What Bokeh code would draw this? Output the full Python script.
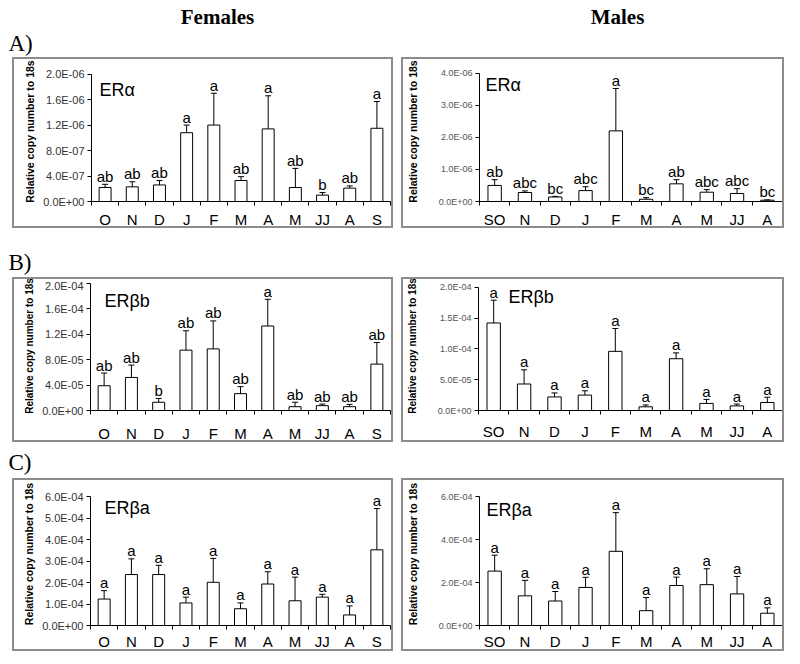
from bokeh.plotting import figure
from bokeh.models import Range1d, FixedTicker, CustomJSTickFormatter, Label, Spacer
from bokeh.layouts import column, row
from bokeh.core.properties import value
from bokeh.embed import file_html
from bokeh.resources import INLINE

# ---------------- data ----------------
female_months = ["O", "N", "D", "J", "F", "M", "A", "M", "JJ", "A", "S"]
male_months = ["SO", "N", "D", "J", "F", "M", "A", "M", "JJ", "A"]

# ER alpha
fem_era_mean = [2.2e-7, 2.3e-7, 2.6e-7, 1.08e-6, 1.20e-6, 3.3e-7, 1.14e-6, 2.2e-7, 1.0e-7, 2.1e-7, 1.15e-6]
fem_era_err = [5e-8, 8e-8, 7e-8, 1.2e-7, 5.0e-7, 6e-8, 5.2e-7, 3.0e-7, 4e-8, 3.5e-8, 4.2e-7]
fem_era_letters = ["ab", "ab", "ab", "a", "a", "ab", "a", "ab", "b", "ab", "a"]
fem_era_ticks = [0, 4e-7, 8e-7, 1.2e-6, 1.6e-6, 2.0e-6]

male_era_mean = [5.0e-7, 2.8e-7, 1.4e-7, 3.4e-7, 2.20e-6, 7e-8, 5.5e-7, 2.9e-7, 2.5e-7, 4e-8]
male_era_err = [1.8e-7, 5e-8, 2e-8, 1.2e-7, 1.32e-6, 5e-8, 1.3e-7, 8e-8, 1.5e-7, 1e-8]
male_era_letters = ["ab", "abc", "bc", "abc", "a", "bc", "ab", "abc", "abc", "bc"]
male_era_ticks = [0, 1e-6, 2e-6, 3e-6, 4e-6]

# ER beta b
fem_erbb_mean = [3.9e-5, 5.2e-5, 1.3e-5, 9.5e-5, 9.7e-5, 2.65e-5, 1.33e-4, 6e-6, 7.6e-6, 6e-6, 7.3e-5]
fem_erbb_err = [2.0e-5, 1.95e-5, 6e-6, 3.05e-5, 4.4e-5, 1.1e-5, 4.2e-5, 7e-6, 2.5e-6, 3.6e-6, 3.4e-5]
fem_erbb_letters = ["ab", "ab", "b", "ab", "ab", "ab", "a", "ab", "ab", "ab", "ab"]
fem_erbb_ticks = [0, 4e-5, 8e-5, 1.2e-4, 1.6e-4, 2.0e-4]

male_erbb_mean = [1.42e-4, 4.3e-5, 2.2e-5, 2.5e-5, 9.6e-5, 6e-6, 8.4e-5, 1.15e-5, 7.5e-6, 1.3e-5]
male_erbb_err = [3.7e-5, 2.3e-5, 6.5e-6, 7e-6, 3.7e-5, 3e-6, 9.5e-6, 6.5e-6, 3e-6, 8.5e-6]
male_erbb_letters = ["a"] * 10
male_erbb_ticks = [0, 5e-5, 1e-4, 1.5e-4, 2e-4]

# ER beta a
fem_erba_mean = [1.23e-4, 2.37e-4, 2.37e-4, 1.05e-4, 2.01e-4, 7.8e-5, 1.93e-4, 1.15e-4, 1.32e-4, 4.9e-5, 3.52e-4]
fem_erba_err = [3.9e-5, 7.3e-5, 4.3e-5, 2.7e-5, 1.11e-4, 2.7e-5, 5.7e-5, 1.1e-4, 1.3e-5, 4.2e-5, 1.92e-4]
fem_erba_letters = ["a"] * 11
fem_erba_ticks = [0, 1e-4, 2e-4, 3e-4, 4e-4, 5e-4, 6e-4]

male_erba_mean = [2.53e-4, 1.38e-4, 1.14e-4, 1.77e-4, 3.45e-4, 6.9e-5, 1.86e-4, 1.90e-4, 1.47e-4, 5.7e-5]
male_erba_err = [7.4e-5, 7.2e-5, 4.4e-5, 4.7e-5, 1.8e-4, 6.1e-5, 3.9e-5, 7.4e-5, 8.1e-5, 2.5e-5]
male_erba_letters = ["a"] * 10
male_erba_ticks = [0, 2e-4, 4e-4, 6e-4]

y_title = "Relative copy number to 18s"
SANS = "Liberation Sans"
SERIF = "Liberation Serif"
BORDER = 2

FMT = CustomJSTickFormatter(code="""
    if (tick == 0) return "0.0E+00";
    const s = tick.toExponential(1);
    const parts = s.split("e");
    const e = parseInt(parts[1]);
    const sign = e < 0 ? "-" : "+";
    const d = String(Math.abs(e)).padStart(2, "0");
    return parts[0] + "E" + sign + d;
""")


def make_panel(cats, means, errs, letters, ticks, gene, box, frame_x, ytop_px, y0_px,
               gene_xy, tick_size, tick_color, title_size, title_standoff, xlab_standoff):
    # box / positions given in page pixels
    bx0, by0, bx1, by1 = box
    ix0, iy0 = bx0 + BORDER, by0 + BORDER          # inner origin
    W, H = bx1 - bx0 - 2 * BORDER, by1 - by0 - 2 * BORDER
    n = len(cats)
    top_border = 2
    left = frame_x[0] - ix0
    right = (ix0 + W) - frame_x[1]
    bottom_border = (iy0 + H) - y0_px
    ymax = ticks[-1]
    frame_top_page = iy0 + top_border
    y_end = ymax * (y0_px - frame_top_page) / (y0_px - ytop_px)
    p = figure(width=W, height=H, x_range=Range1d(0.5, n + 0.5), y_range=Range1d(0, y_end),
               output_backend="svg", toolbar_location=None,
               min_border_left=left, min_border_right=right,
               min_border_top=top_border, min_border_bottom=bottom_border,
               styles={"border": f"{BORDER}px solid #8c8c8c"})
    p.outline_line_color = None
    p.grid.visible = False
    p.background_fill_color = "white"

    xs = list(range(1, n + 1))
    tops = [m + e for m, e in zip(means, errs)]

    p.vbar(x=xs, top=means, bottom=0, width=0.44, fill_color="white",
           line_color="black", line_width=1)
    p.segment(x0=xs, y0=means, x1=xs, y1=tops, line_color="black", line_width=1)
    p.scatter(x=xs, y=tops, marker="dash", size=6, line_color="black", line_width=1)
    p.text(x=xs, y=tops, text=letters, text_align="center", text_baseline="alphabetic",
           y_offset=-8, text_font=value(SANS), text_font_size="15px", text_color="black")

    # x axis
    xa = p.xaxis[0]
    xa.ticker = FixedTicker(ticks=xs, minor_ticks=[k + 0.5 for k in range(n + 1)])
    xa.major_label_overrides = {i + 1: c for i, c in enumerate(cats)}
    xa.major_tick_out = 0
    xa.major_tick_in = 0
    xa.minor_tick_out = 4
    xa.minor_tick_in = 0
    xa.minor_tick_line_color = "black"
    xa.axis_line_color = "black"
    xa.major_label_text_font = SANS
    xa.major_label_text_font_size = "15px"
    xa.major_label_text_color = "black"
    xa.major_label_standoff = xlab_standoff

    # y axis
    ya = p.yaxis[0]
    ya.ticker = FixedTicker(ticks=ticks, minor_ticks=[])
    ya.formatter = FMT
    ya.bounds = (0, ymax)
    ya.major_tick_out = 4
    ya.major_tick_in = 0
    ya.minor_tick_out = 0
    ya.minor_tick_in = 0
    ya.axis_line_color = "black"
    ya.major_tick_line_color = "black"
    ya.major_label_text_font = SANS
    ya.major_label_text_font_size = tick_size
    ya.major_label_text_color = tick_color
    ya.major_label_standoff = 3
    ya.axis_label = y_title
    ya.axis_label_text_font = SANS
    ya.axis_label_text_font_size = title_size
    ya.axis_label_text_font_style = "bold"
    ya.axis_label_text_color = "black"
    ya.axis_label_standoff = title_standoff

    p.add_layout(Label(x=gene_xy[0] - ix0, y=gene_xy[1] - iy0, x_units="canvas", y_units="canvas",
                       text=gene, text_font=SANS, text_font_size="18px",
                       text_baseline="alphabetic", text_color="black"))
    return p


def text_fig(W, H, items):
    p = figure(width=W, height=H, x_range=Range1d(0, W), y_range=Range1d(H, 0),
               x_axis_type=None, y_axis_type=None, output_backend="svg",
               toolbar_location=None, min_border=0)
    p.outline_line_color = None
    for (x, y, txt, size, style, align) in items:
        p.text(x=[x], y=[y], text=[txt], text_align=align, text_baseline="middle",
               text_font=value(SERIF), text_font_size=size, text_font_style=style,
               text_color="black")
    return p


# page layout (pixels)
F_X = (12, 397)
M_X = (405, 792)
ROW_A = (57, 232)
ROW_B = (277, 446)
ROW_C = (478, 655)

fA = make_panel(female_months, fem_era_mean, fem_era_err, fem_era_letters, fem_era_ticks, "ERα",
                (F_X[0], ROW_A[0], F_X[1], ROW_A[1]), (91, 390), 74, 205, (97, 87),
                "11px", "#333333", "10.5px", 4, 5)
mA = make_panel(male_months, male_era_mean, male_era_err, male_era_letters, male_era_ticks, "ERα",
                (M_X[0], ROW_A[0], M_X[1], ROW_A[1]), (476, 786), 73, 206, (487, 82),
                "9px", "#555555", "10.5px", 17, 5)
fB = make_panel(female_months, fem_erbb_mean, fem_erbb_err, fem_erbb_letters, fem_erbb_ticks, "ERβb",
                (F_X[0], ROW_B[0], F_X[1], ROW_B[1]), (90, 390), 283, 414, (102, 298),
                "11px", "#333333", "10px", 4, 10)
mB = make_panel(male_months, male_erbb_mean, male_erbb_err, male_erbb_letters, male_erbb_ticks, "ERβb",
                (M_X[0], ROW_B[0], M_X[1], ROW_B[1]), (476, 786), 287, 416, (510, 294),
                "9px", "#555555", "10px", 17, 8)
fC = make_panel(female_months, fem_erba_mean, fem_erba_err, fem_erba_letters, fem_erba_ticks, "ERβa",
                (F_X[0], ROW_C[0], F_X[1], ROW_C[1]), (90, 390), 496, 625, (102, 505),
                "11px", "#333333", "10.5px", 4, 3)
mC = make_panel(male_months, male_erba_mean, male_erba_err, male_erba_letters, male_erba_ticks, "ERβa",
                (M_X[0], ROW_C[0], M_X[1], ROW_C[1]), (476, 786), 496, 625, (488, 507),
                "9px", "#555555", "10.5px", 17, 3)

top = text_fig(800, ROW_A[0], [(217, 16, "Females", "21px", "bold", "center"),
                               (617, 16, "Males", "21px", "bold", "center"),
                               (8, 43, "A)", "23px", "normal", "left")])
midB = text_fig(800, ROW_B[0] - ROW_A[1], [(8, 262 - ROW_A[1], "B)", "23px", "normal", "left")])
midC = text_fig(800, ROW_C[0] - ROW_B[1], [(8, 462 - ROW_B[1], "C)", "23px", "normal", "left")])


def panel_row(f, m, H):
    return row(Spacer(width=F_X[0], height=H), f, Spacer(width=M_X[0] - F_X[1], height=H), m)


layout = column(top, panel_row(fA, mA, ROW_A[1] - ROW_A[0]), midB,
                panel_row(fB, mB, ROW_B[1] - ROW_B[0]), midC,
                panel_row(fC, mC, ROW_C[1] - ROW_C[0]))

open("out.html", "w").write(file_html(layout, INLINE))
